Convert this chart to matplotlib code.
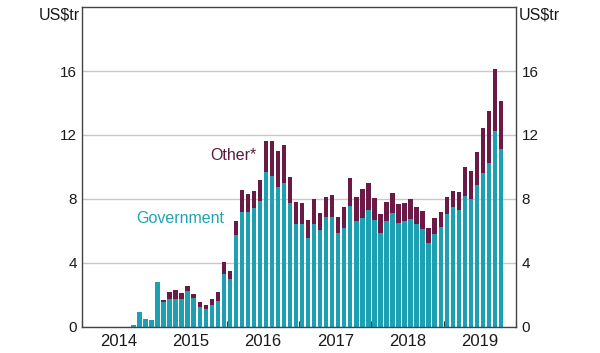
import matplotlib
matplotlib.use('Agg')
import matplotlib.pyplot as plt
import numpy as np

plt.rcParams['font.family'] = ['Liberation Sans', 'DejaVu Sans']

# monthly, Sep 2014 .. Oct 2019
start_year = 2014
start_month = 9
government = [
    0.10, 0.92, 0.48, 0.45,
    2.83, 1.54, 1.73, 1.73, 1.75, 2.27, 1.83, 1.27, 1.10, 1.38, 1.63, 3.31,
    2.98, 5.75, 7.17, 7.21, 7.46, 7.90, 9.71, 9.46, 8.73, 8.98, 7.73, 6.44,
    6.46, 5.58, 6.42, 6.06, 6.90, 6.85, 5.90, 6.21, 7.56, 6.63, 6.79, 7.31,
    6.69, 5.90, 6.63, 7.10, 6.52, 6.65, 6.75, 6.44, 6.13, 5.23, 5.81, 6.25,
    7.05, 7.48, 7.31, 8.19, 7.98, 8.88, 9.65, 10.27, 12.25, 11.10,
]
other = [
    0.00, 0.00, 0.00, 0.00,
    0.00, 0.15, 0.48, 0.58, 0.35, 0.29, 0.23, 0.31, 0.27, 0.37, 0.58, 0.77,
    0.54, 0.90, 1.39, 1.10, 1.06, 1.29, 1.94, 2.19, 2.27, 2.42, 1.67, 1.39,
    1.31, 1.11, 1.58, 1.04, 1.25, 1.38, 0.95, 1.31, 1.73, 1.47, 1.84, 1.71,
    1.37, 1.14, 1.20, 1.25, 1.15, 1.12, 1.25, 1.04, 1.12, 0.94, 0.98, 0.94,
    1.10, 1.04, 1.15, 1.83, 1.77, 2.04, 2.81, 3.25, 3.88, 3.05,
]
year_labels = ['2014', '2015', '2016', '2017', '2018', '2019']
y_ticks = [0, 4, 8, 12, 16]

teal = '#1ea0b3'
maroon = '#6b1a45'

n = len(government)
months = np.arange(n) + (start_month - 1)
x = start_year + (months + 0.5) / 12
gov = np.array(government)
oth = np.array(other)

fig = plt.figure(figsize=(6.0, 3.53), dpi=100)
ax = fig.add_axes([0.137, 0.074, 0.723, 0.906])

w = 0.72 / 12
ax.bar(x, gov, width=w, color=teal, zorder=2)
ax.bar(x, oth, width=w, bottom=gov, color=maroon, zorder=2)

ax.set_xlim(2014, 2020)
ax.set_ylim(0, 20)

ax.set_yticks(y_ticks)
ax.yaxis.grid(True, color='#c8c8c8', linewidth=1.0, zorder=0)
ax.set_axisbelow(True)
ax.tick_params(axis='y', length=0, labelsize=11, labelright=True, pad=4,
               labelcolor='#1a1a1a')

years = np.arange(2014, 2021)
ax.set_xticks(years)
ax.set_xticklabels([])
ax.tick_params(axis='x', which='major', direction='in', length=4, color='#333333')
ax.set_xticks(years[:-1] + 0.5, minor=True)
ax.set_xticklabels(year_labels, minor=True)
ax.tick_params(axis='x', which='minor', length=0, labelsize=12, pad=5,
               labelcolor='#1a1a1a')

for s in ax.spines.values():
    s.set_color('#444444')
    s.set_linewidth(1.0)

ax.annotate('US$tr', xy=(0, 1), xycoords='axes fraction', xytext=(-2, 0),
            textcoords='offset points', ha='right', va='top', fontsize=11.5,
            color='#1a1a1a')
ax.annotate('US$tr', xy=(1, 1), xycoords='axes fraction', xytext=(2, 0),
            textcoords='offset points', ha='left', va='top', fontsize=11.5,
            color='#1a1a1a')

ax.text(2016.09, 10.7, 'Other*', color='#5e1a3e', fontsize=11.5,
        ha='center', va='center')
ax.text(2015.96, 6.8, 'Government', color='#22a3b3', fontsize=11.5,
        ha='right', va='center')

fig.savefig('out.png', dpi=100)
